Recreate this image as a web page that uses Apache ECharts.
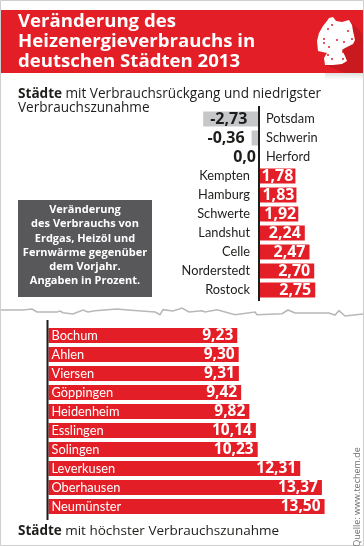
<!DOCTYPE html>
<html><head><meta charset="utf-8">
<style>html,body{margin:0;padding:0;background:#fff}#c{width:364px;height:546px}</style>
<script src="https://cdn.jsdelivr.net/npm/echarts@6/dist/echarts.min.js"></script>
</head><body><div id="c"></div>
<script>
const topCities = ['Potsdam','Schwerin','Herford','Kempten','Hamburg','Schwerte','Landshut','Celle','Norderstedt','Rostock'];
const topValues = [-2.73,-0.36,0,1.78,1.83,1.92,2.24,2.47,2.70,2.75];
const bottomCities = ['Bochum','Ahlen','Viersen','Göppingen','Heidenheim','Esslingen','Solingen','Leverkusen','Oberhausen','Neumünster'];
const bottomValues = [9.23,9.30,9.31,9.42,9.82,10.14,10.23,12.31,13.37,13.50];
const titleLines = ['Veränderung des','Heizenergieverbrauchs in','deutschen Städten 2013'];
const boxLines = ['Veränderung','des Verbrauchs von','Erdgas, Heizöl und','Fernwärme gegenüber','dem Vorjahr.','Angaben in Prozent.'];

const RED='#e31e26', GREY='#c6c7c9', INK='#1d1d1b', FONT='"Open Sans","Noto Sans",sans-serif', NAMEFONT='Lato,Roboto,sans-serif';
const fmt = v => v===0 ? '0,0' : v.toFixed(2).replace('.',',');
const chart = echarts.init(document.getElementById('c'),null,{renderer:'canvas'});

const topBars = topValues.map(v=>({
  value:v,
  itemStyle:{color:v<0?GREY:RED},
  label:{
    color:v<=0?INK:'#fff',
    position:v===0?'left':(v<0?(v<-1?'insideLeft':'left'):'insideRight'),
    distance:v===0?3:(v<0?7:(v>2?4:2))
  }
}));
const topNames = topValues.map(v=>({
  value:0,
  label:{position:v<=0?'right':'left',distance:v<=0?7:9}
}));

const torn=[[1,310],[23,310],[32,309],[37,312],[57,312],[60,311],[63,312.7],[73,314],[83,310],[88,312],[95,310.7],[117,309],[128,310],[155,312],[160,314.7],[163,309.7],[173,311],[182,308],[189,312],[202,310.7],[205,312],[217,309.7],[235,314.7],[255,312],[257,314.7],[282,313.7],[288,310],[295,313],[329,313],[335,315],[339,310.7],[345,316],[363,314]];
const map=[[327,21],[329,18],[333,17],[336,21],[342,22],[349,20],[352,25],[353,31],[355,40],[353,44],[345,48],[342,50],[345,56],[347,61],[342,64],[333,65],[325,65],[324,58],[327,53],[318,51],[317,41],[319,33],[323,26]];
const dots=[[332,25],[328,29],[348,31],[352,39],[324,39],[324,43],[337,40],[344,42],[329,47],[343,52],[328,55],[332,59],[343,59]];
const mapShadow=[[349,20],[363,34],[363,73],[345,73],[325,65],[342,64],[347,61],[345,56],[342,50],[345,48],[353,44],[355,40],[353,31],[352,25]];

const graphic=[
  {type:'rect',shape:{x:0.5,y:0.5,width:363,height:545},style:{fill:'#fff',stroke:'#cfcfcf',lineWidth:1},z:-10},
  {type:'rect',shape:{x:1,y:10,width:362,height:63},style:{fill:RED},z:-5},
  {type:'polygon',shape:{points:mapShadow},style:{fill:'rgba(120,10,15,0.22)'},z:0},
  {type:'rect',shape:{x:325,y:73,width:38,height:7},style:{fill:{type:'linear',x:0,y:0,x2:0,y2:1,colorStops:[{offset:0,color:'#e0e0e0'},{offset:1,color:'#fff'}]}},z:-5},
  {type:'polygon',shape:{points:map},style:{fill:'#fff'},z:1},
  ...dots.map(d=>({type:'circle',shape:{cx:d[0],cy:d[1],r:1},style:{fill:RED},z:2})),
  ...titleLines.map((t,i)=>({type:'text',x:18,y:22+i*19.8,style:{text:t,font:'bold 18.6px '+FONT,fill:'#fff',textVerticalAlign:'middle'},z:3})),
  {type:'text',x:18,y:94,style:{rich:{b:{font:'bold 13.6px '+FONT,fill:INK},n:{font:'13.6px '+FONT,fill:INK}},text:'{b|Städte} {n|mit Verbrauchsrückgang und niedrigster}',textVerticalAlign:'middle'},z:3},
  {type:'text',x:18,y:108,style:{text:'Verbrauchszunahme',font:'13.6px '+FONT,fill:INK,textVerticalAlign:'middle'},z:3},
  {type:'rect',shape:{x:18,y:200,width:134,height:97},style:{fill:'#58585a'},z:1},
  ...boxLines.map((t,i)=>({type:'text',x:85,y:210+i*14.2,style:{text:t,font:'bold 11px '+FONT,fill:'#fff',textAlign:'center',textVerticalAlign:'middle'},z:3})),
  {type:'polyline',shape:{points:torn},style:{stroke:'#b8b8b8',lineWidth:1.6,fill:null},z:1},
  {type:'line',shape:{x1:259,y1:106,x2:259,y2:301},style:{stroke:INK,lineWidth:2},z:8},
  {type:'line',shape:{x1:47.5,y1:320,x2:47.5,y2:520},style:{stroke:INK,lineWidth:2},z:8},
  {type:'text',x:18,y:531,style:{rich:{b:{font:'bold 13.5px '+FONT,fill:INK},n:{font:'13.5px '+FONT,fill:INK}},text:'{b|Städte} {n|mit höchster Verbrauchszunahme}',textVerticalAlign:'middle'},z:3},
  {type:'text',x:357,y:497,rotation:Math.PI/2,style:{text:'Quelle: www.techem.de',font:'9px '+FONT,fill:'#6f6f6e',textAlign:'center',textVerticalAlign:'middle'},z:3}
];

chart.setOption({
  animation:false,
  backgroundColor:'#fff',
  graphic,
  grid:[
    {left:197.65,top:109.5,width:122.7,height:190},
    {left:48.5,top:326,width:286.3,height:190}
  ],
  xAxis:[
    {gridIndex:0,type:'value',min:-3,max:3,show:false},
    {gridIndex:1,type:'value',min:0,max:14,show:false}
  ],
  yAxis:[
    {gridIndex:0,type:'category',inverse:true,data:topCities,axisLine:{show:false},axisTick:{show:false},axisLabel:{show:false}},
    {gridIndex:1,type:'category',inverse:true,data:bottomCities,axisLine:{show:false},axisTick:{show:false},axisLabel:{show:false}}
  ],
  series:[
    {type:'bar',xAxisIndex:0,yAxisIndex:0,barWidth:15,barGap:'-100%',data:topBars,
     label:{show:true,formatter:p=>fmt(p.value),fontFamily:FONT,fontWeight:'bold',fontSize:16}},
    {type:'bar',xAxisIndex:0,yAxisIndex:0,barWidth:15,barGap:'-100%',data:topNames,
     label:{show:true,formatter:p=>p.name,fontFamily:NAMEFONT,fontSize:12.8,color:INK}},
    {type:'bar',xAxisIndex:1,yAxisIndex:1,barWidth:15,barGap:'-100%',data:bottomValues,itemStyle:{color:RED},
     label:{show:true,position:'insideRight',distance:4,formatter:p=>fmt(p.value),color:'#fff',fontFamily:FONT,fontWeight:'bold',fontSize:15.5}},
    {type:'bar',xAxisIndex:1,yAxisIndex:1,barWidth:15,barGap:'-100%',data:bottomValues.map(()=>0),
     label:{show:true,position:'right',distance:3,formatter:p=>p.name,color:'#fff',fontFamily:NAMEFONT,fontSize:12.8}}
  ]
});
</script></body></html>
